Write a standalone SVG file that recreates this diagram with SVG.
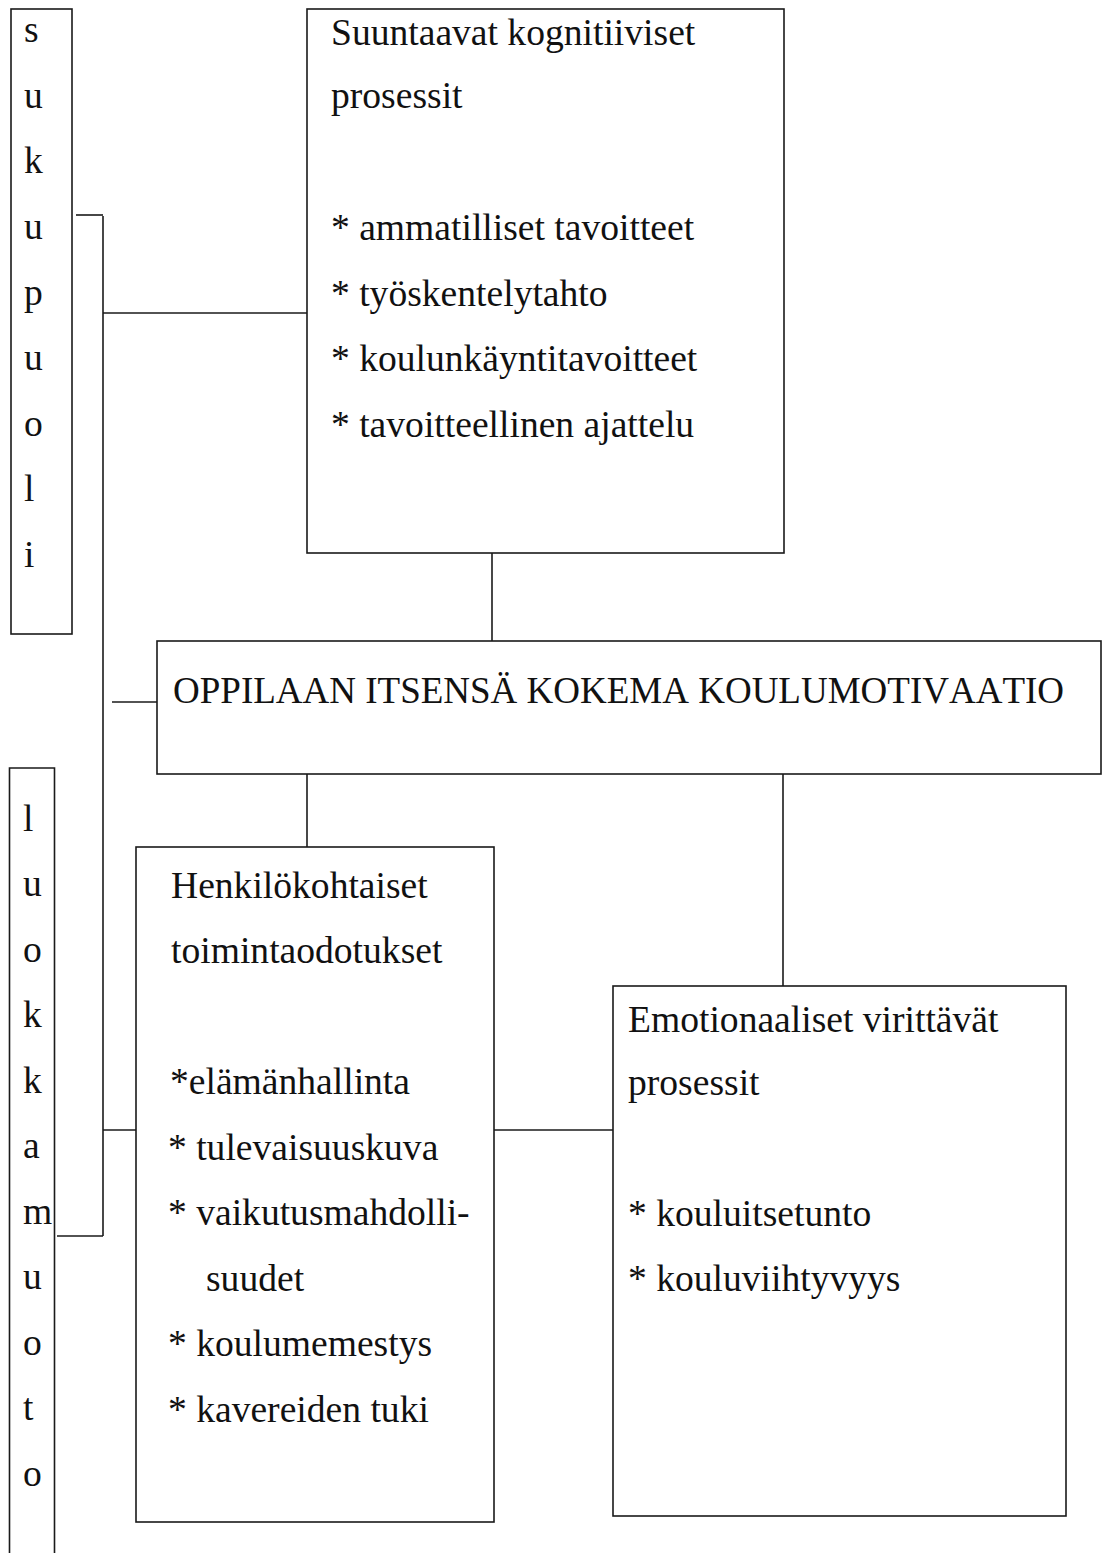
<svg xmlns="http://www.w3.org/2000/svg" width="1102" height="1553" viewBox="0 0 1102 1553">
<style>
.box{fill:none;stroke:#1a1a1a;stroke-width:1.6}
.ln{fill:none;stroke:#1a1a1a;stroke-width:1.6}
text{font-family:"Liberation Serif","Times New Roman",serif;font-size:37.6px;fill:#111;font-kerning:none}
.title{font-size:37px}
</style>
<rect width="1102" height="1553" fill="#fff"/>
<g id="connectors">
<line class="ln" x1="76" y1="215" x2="103" y2="215"/>
<line class="ln" x1="103" y1="216" x2="103" y2="1236"/>
<line class="ln" x1="57" y1="1236" x2="103" y2="1236"/>
<line class="ln" x1="103" y1="313" x2="307" y2="313"/>
<line class="ln" x1="112" y1="702" x2="157" y2="702"/>
<line class="ln" x1="103" y1="1130" x2="136" y2="1130"/>
<line class="ln" x1="492" y1="553" x2="492" y2="641"/>
<line class="ln" x1="307" y1="774" x2="307" y2="847"/>
<line class="ln" x1="783" y1="774" x2="783" y2="986"/>
<line class="ln" x1="494" y1="1130" x2="613" y2="1130"/>
</g>
<g id="sukupuoli">
<rect class="box" x="11" y="9" width="61" height="625"/>
<text x="24" y="42">s</text>
<text x="24" y="108">u</text>
<text x="24" y="173">k</text>
<text x="24" y="239">u</text>
<text x="24" y="305">p</text>
<text x="24" y="370">u</text>
<text x="24" y="436">o</text>
<text x="24" y="501">l</text>
<text x="24" y="567">i</text>
</g>
<g id="luokkamuoto">
<path class="box" d="M9.5,1553 V768 H54.5 V1553"/>
<text x="23" y="831">l</text>
<text x="23" y="896">u</text>
<text x="23" y="962">o</text>
<text x="23" y="1027">k</text>
<text x="23" y="1093">k</text>
<text x="23" y="1158">a</text>
<text x="23" y="1224">m</text>
<text x="23" y="1289">u</text>
<text x="23" y="1355">o</text>
<text x="23" y="1420">t</text>
<text x="23" y="1486">o</text>
</g>
<g id="suuntaavat">
<rect class="box" x="307" y="9" width="477" height="544"/>
<text x="331" y="45">Suuntaavat kognitiiviset</text>
<text x="331" y="108">prosessit</text>
<text x="331" y="240">* ammatilliset tavoitteet</text>
<text x="331" y="306">* työskentelytahto</text>
<text x="331" y="371">* koulunkäyntitavoitteet</text>
<text x="331" y="437">* tavoitteellinen ajattelu</text>
</g>
<g id="oppilaan">
<rect class="box" x="157" y="641" width="944" height="133"/>
<text class="title" x="173" y="703">OPPILAAN ITSENSÄ KOKEMA KOULUMOTIVAATIO</text>
</g>
<g id="henkilokohtaiset">
<rect class="box" x="136" y="847" width="358" height="675"/>
<text x="171" y="898">Henkilökohtaiset</text>
<text x="171" y="963">toimintaodotukset</text>
<text x="170" y="1094">*elämänhallinta</text>
<text x="168" y="1160">* tulevaisuuskuva</text>
<text x="168" y="1225">* vaikutusmahdolli-</text>
<text x="206" y="1291">suudet</text>
<text x="168" y="1356">* koulumemestys</text>
<text x="168" y="1422">* kavereiden tuki</text>
</g>
<g id="emotionaaliset">
<rect class="box" x="613" y="986" width="453" height="530"/>
<text x="628" y="1032">Emotionaaliset virittävät</text>
<text x="628" y="1095">prosessit</text>
<text x="628" y="1226">* kouluitsetunto</text>
<text x="628" y="1291">* kouluviihtyvyys</text>
</g>
</svg>
